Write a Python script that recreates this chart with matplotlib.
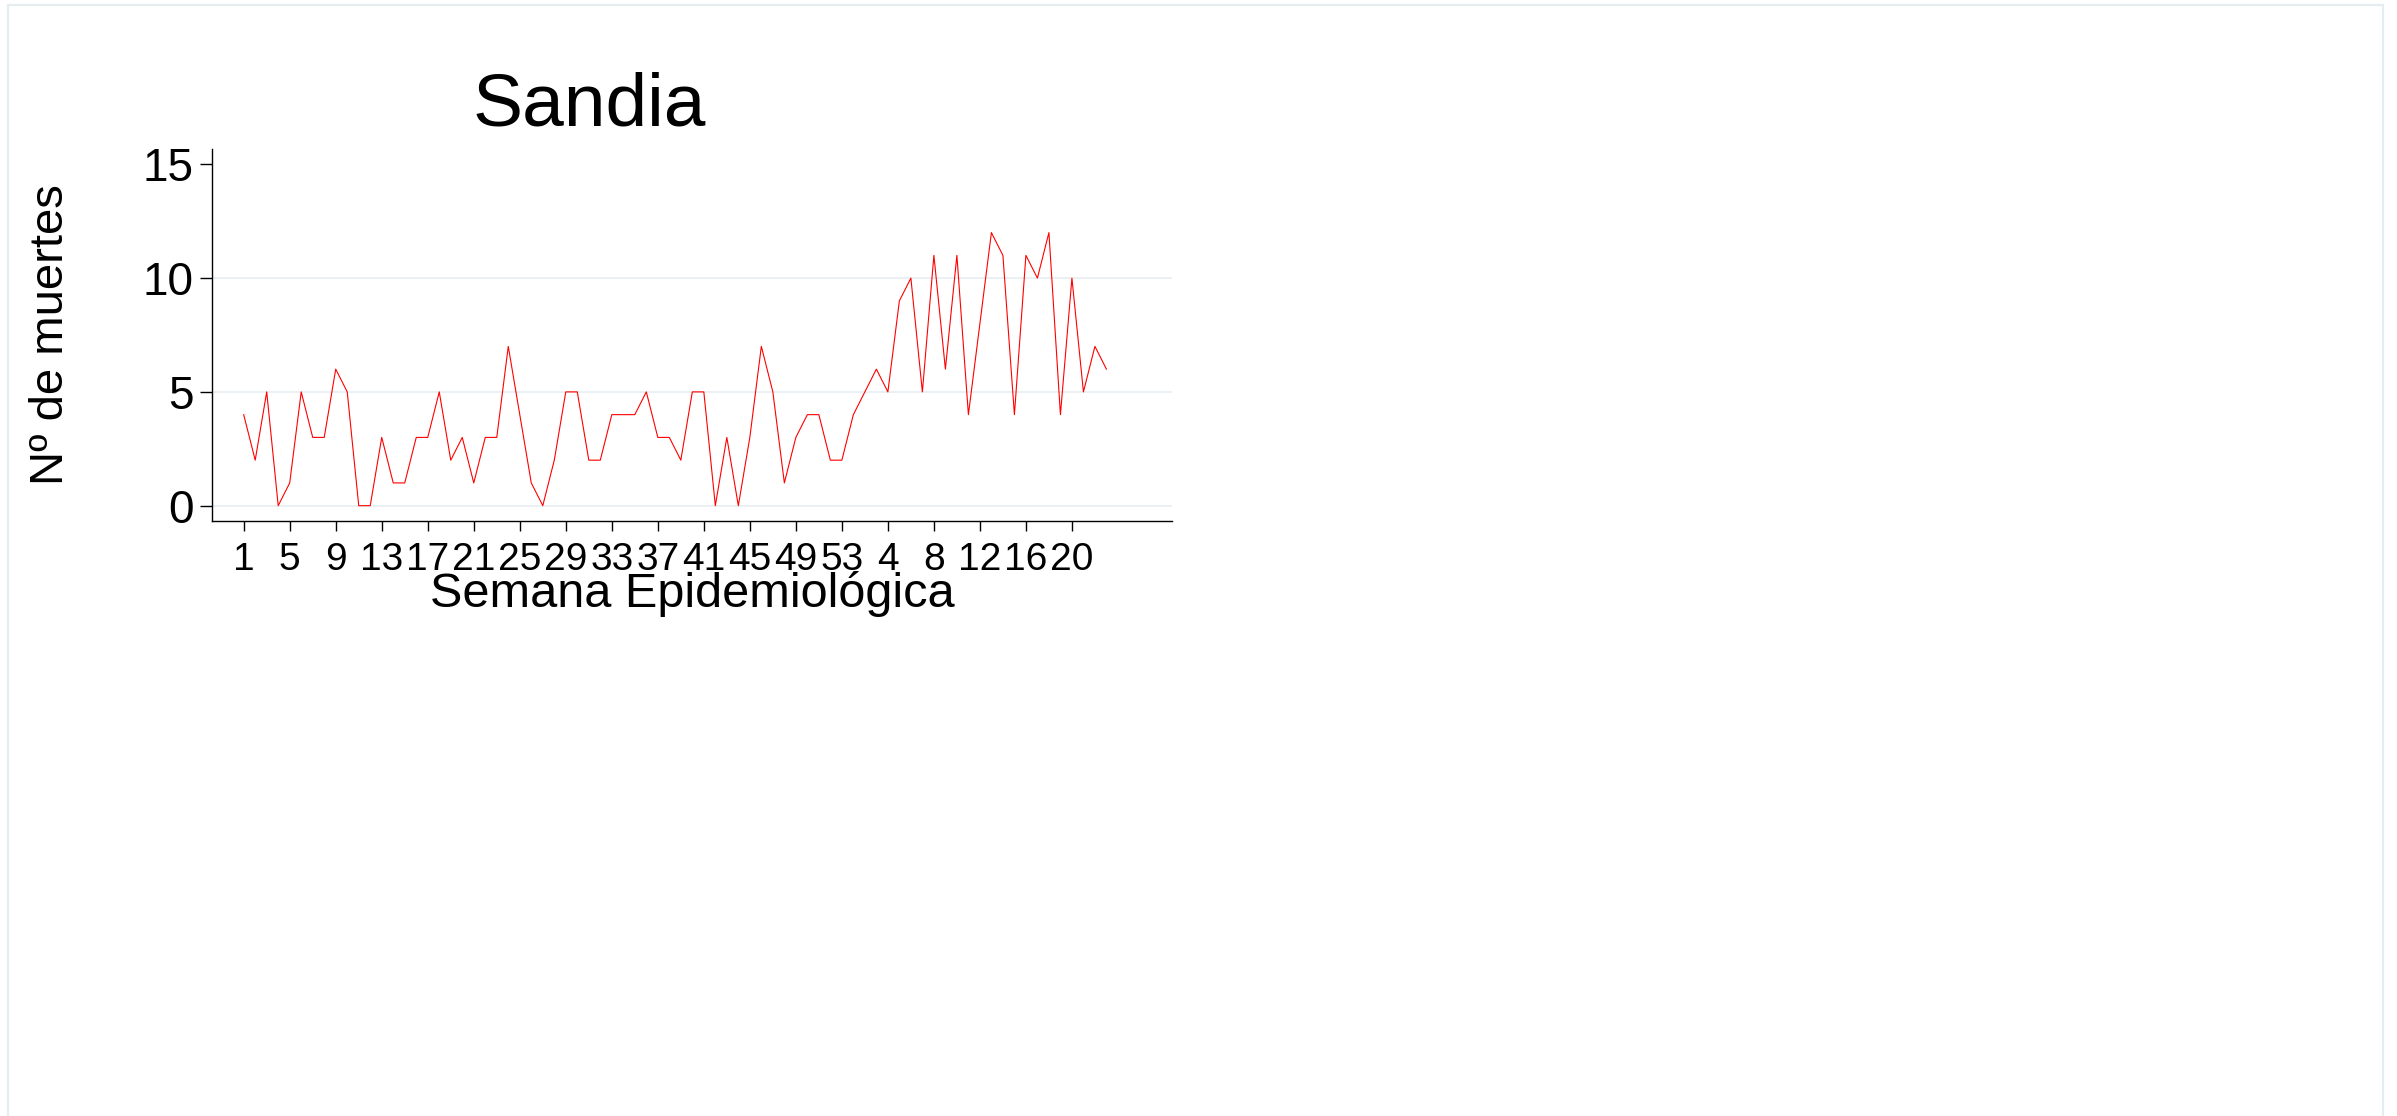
import numpy as np
import matplotlib
matplotlib.use("Agg")
from matplotlib import pyplot as plt
from matplotlib.patches import Rectangle

# weekly deaths, epi weeks 1-53 (2020) followed by weeks 1-23 (2021)
deaths = [
    4, 2, 5, 0, 1, 5, 3, 3, 6, 5,
    0, 0, 3, 1, 1, 3, 3, 5, 2, 3,
    1, 3, 3, 7, 4, 1, 0, 2, 5, 5,
    2, 2, 4, 4, 4, 5, 3, 3, 2, 5,
    5, 0, 3, 0, 3, 7, 5, 1, 3, 4,
    4, 2, 2, 4, 5, 6, 5, 9, 10, 5,
    11, 6, 11, 4, 8, 12, 11, 4, 11, 10,
    12, 4, 10, 5, 7, 6,
]
tick_labels = ["1", "5", "9", "13", "17", "21", "25", "29", "33", "37",
               "41", "45", "49", "53", "4", "8", "12", "16", "20"]
y_ticks = [0, 5, 10, 15]

title = "Sandia"
x_title = "Semana Epidemiológica"
y_title = "Nº de muertes"

W, H = 2397, 1116
plt.rcParams["font.family"] = ["Liberation Sans", "DejaVu Sans"]

fig = plt.figure(figsize=(W / 100, H / 100), dpi=100)
fig.patch.set_facecolor("white")

# faint outer frame
fig.patches.append(
    Rectangle((8 / W, -0.02), (2383 - 8) / W, 1.02 - 5 / H,
              transform=fig.transFigure, fill=False,
              edgecolor="#e6edf0", linewidth=1.6)
)

ax = fig.add_axes([212.3 / W, 1 - 520.7 / H, (1172 - 212.3) / W, (520.7 - 149.3) / H])

x = np.arange(len(deaths))
ax.plot(x, deaths, color="#ff0000", linewidth=0.8)

ax.set_xlim(-2.73, 80.7)
ax.set_ylim(-0.66, 15.66)

ax.set_xticks(x[::4][:len(tick_labels)])
ax.set_xticklabels(tick_labels)
ax.set_yticks(y_ticks)

ax.grid(axis="y", color="#e8eff2", linewidth=1.3)
ax.get_ygridlines()[-1].set_visible(False)
ax.set_axisbelow(True)

for side in ["top", "right"]:
    ax.spines[side].set_visible(False)
for side in ["left", "bottom"]:
    ax.spines[side].set_linewidth(1.0)
    ax.spines[side].set_color("black")

ax.tick_params(axis="x", length=7, width=1.0, pad=8, labelsize=28)
ax.tick_params(axis="y", length=8.5, width=1.0, pad=5, labelsize=33)

ax.set_xlabel(x_title, fontsize=35, va="baseline")
ax.xaxis.set_label_coords(0.5, (520.7 - 607) / (520.7 - 149.3))
ax.set_ylabel(y_title, fontsize=34, va="baseline")
ax.yaxis.set_label_coords((63 - 212.3) / (1172 - 212.3), 0.5)

fig.text(589 / W, 1 - 126 / H, title, fontsize=54, ha="center", va="baseline")

fig.savefig("out.png", dpi=100, facecolor="white")
